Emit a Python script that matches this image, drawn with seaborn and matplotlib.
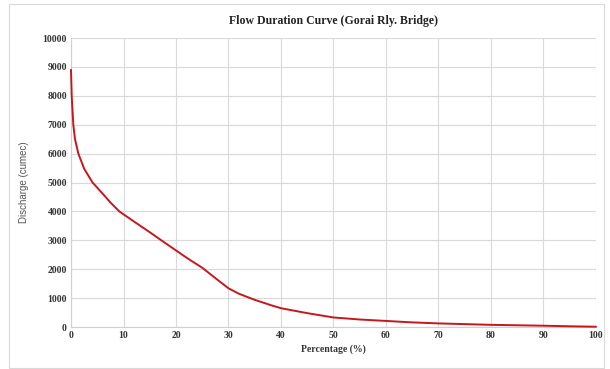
import numpy as np
import pandas as pd
import matplotlib.pyplot as plt
import seaborn as sns
from matplotlib.patches import Rectangle

# flow duration data
percentage = [0, 0.13, 0.44, 0.76, 1.4, 2.5, 4.1, 6, 7.5, 9.2, 10, 12, 15, 18,
              20, 22, 25, 28, 30, 32, 35, 38, 40, 45, 50, 55, 60, 65, 70, 75,
              80, 85, 90, 95, 100]
discharge = [8900, 8000, 7000, 6500, 6000, 5480, 5000, 4620, 4310, 4000, 3900,
             3650, 3280, 2900, 2650, 2400, 2050, 1620, 1340, 1150, 940, 760,
             650, 480, 330, 260, 210, 160, 125, 100, 75, 60, 45, 25, 10]

df = pd.DataFrame({"Percentage": percentage, "Discharge": discharge})

sns.set_theme(style="whitegrid")
plt.rcParams["font.family"] = ["Liberation Serif", "DejaVu Serif"]

fig = plt.figure(figsize=(6.1, 3.69), dpi=100)
ax = fig.add_axes([0.1164, 0.1138, 0.8606, 0.7832])

sns.lineplot(data=df, x="Percentage", y="Discharge", color="#C8161D",
             linewidth=1.4, ax=ax)
for line in ax.get_lines():
    line.set_clip_on(False)
    line.set_zorder(3)

ax.set_xlim(0, 100)
ax.set_ylim(0, 10000)
ax.set_xticks(range(0, 101, 10))
ax.set_yticks(range(0, 10001, 1000))
ax.tick_params(axis="both", labelsize=7, pad=3, length=0)
for lbl in ax.get_xticklabels() + ax.get_yticklabels():
    lbl.set_fontweight("bold")
    lbl.set_color("#333333")

ax.grid(True, color="#D9D9D9", linewidth=0.8)
for side in ["top", "right"]:
    ax.spines[side].set_visible(False)
for side in ["left", "bottom"]:
    ax.spines[side].set_color("#D0D0D0")
    ax.spines[side].set_linewidth(0.8)

ax.set_xlabel("Percentage (%)", fontsize=7, fontweight="bold", color="#333333",
              labelpad=3)
ax.set_ylabel("Discharge (cumec)", fontsize=7, color="#555555", labelpad=10,
              family=["Liberation Sans", "DejaVu Sans"])
ax.set_title("Flow Duration Curve (Gorai Rly. Bridge)", fontsize=8.5,
             fontweight="bold", color="#222222", pad=10)

# light frame around the chart area
fig.patches.append(Rectangle((0.015, 0.003), 0.975, 0.985, transform=fig.transFigure,
                             fill=False, edgecolor="#D9D9D9", linewidth=0.8))

fig.savefig("out.png", dpi=100)
